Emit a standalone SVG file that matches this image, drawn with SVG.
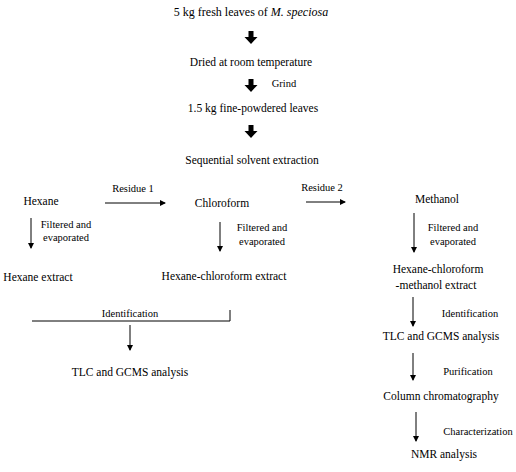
<svg xmlns="http://www.w3.org/2000/svg" width="516" height="472" viewBox="0 0 516 472">
<defs>
<style>
.t{font-family:"Liberation Serif","Times New Roman",serif;font-size:11.5px;fill:#000;text-anchor:middle}
.s{font-family:"Liberation Serif","Times New Roman",serif;font-size:10.5px;fill:#000;text-anchor:middle}
.l{stroke:#000;stroke-width:1;fill:none}
.big{fill:#000}
</style>
<marker id="ah" markerWidth="6" markerHeight="6" refX="5" refY="3" orient="auto" markerUnits="userSpaceOnUse">
<path d="M0,0 L6,3 L0,6 Z" fill="#000"/>
</marker>
<path id="blk" d="M-2.5,0 H2.5 V6 H6.5 L0,13 L-6.5,6 H-2.5 Z"/>
</defs>
<rect width="516" height="472" fill="#fff"/>

<g id="n-fresh"><text class="t" x="251" y="16" style="font-size:12px">5 kg fresh leaves of  <tspan font-style="italic">M. speciosa</tspan></text></g>
<g id="n-dried"><text class="t" x="251" y="66">Dried at room temperature</text></g>
<g id="n-powder"><text class="t" x="253" y="112">1.5 kg fine-powdered leaves</text></g>
<g id="n-seq"><text class="t" x="252" y="164">Sequential solvent extraction</text></g>
<g id="n-hexane"><text class="t" x="41" y="205">Hexane</text></g>
<g id="n-chloroform"><text class="t" x="222" y="207">Chloroform</text></g>
<g id="n-methanol"><text class="t" x="437" y="203">Methanol</text></g>
<g id="n-hexext"><text class="t" x="38" y="281">Hexane extract</text></g>
<g id="n-hcext"><text class="t" x="224" y="280">Hexane-chloroform extract</text></g>
<g id="n-hcmext"><text class="t" x="438" y="273">Hexane-chloroform</text><text class="t" x="436" y="289">-methanol extract</text></g>
<g id="n-tlc1"><text class="t" x="130" y="376">TLC and GCMS analysis</text></g>
<g id="n-tlc2"><text class="t" x="441" y="340">TLC and GCMS analysis</text></g>
<g id="n-column"><text class="t" x="441" y="400">Column chromatography</text></g>
<g id="n-nmr"><text class="t" x="444" y="458">NMR analysis</text></g>

<g id="connectors">
<use href="#blk" x="251" y="31" class="big"/>
<use href="#blk" x="251" y="79" class="big"/>
<use href="#blk" x="251" y="125" class="big"/>
<text class="s" x="284" y="87">Grind</text>

<line class="l" x1="105" y1="203" x2="165" y2="203" marker-end="url(#ah)"/>
<text class="s" x="133" y="192">Residue 1</text>
<line class="l" x1="306" y1="202" x2="345" y2="202" marker-end="url(#ah)"/>
<text class="s" x="322" y="191">Residue 2</text>

<line class="l" x1="31" y1="218" x2="31" y2="248" marker-end="url(#ah)"/>
<text class="s" x="66" y="228">Filtered and</text>
<text class="s" x="66" y="241">evaporated</text>

<line class="l" x1="220" y1="222" x2="220" y2="251" marker-end="url(#ah)"/>
<text class="s" x="262" y="231">Filtered and</text>
<text class="s" x="262" y="245">evaporated</text>

<line class="l" x1="414" y1="213" x2="414" y2="252" marker-end="url(#ah)"/>
<text class="s" x="453" y="231">Filtered and</text>
<text class="s" x="453" y="245">evaporated</text>

<polyline class="l" points="32,321 230,321 230,310"/>
<text class="s" x="130" y="317">Identification</text>
<line class="l" x1="130" y1="325" x2="130" y2="350" marker-end="url(#ah)"/>

<line class="l" x1="413" y1="297" x2="413" y2="326" marker-end="url(#ah)"/>
<text class="s" x="470" y="317">Identification</text>
<line class="l" x1="413" y1="353" x2="413" y2="380" marker-end="url(#ah)"/>
<text class="s" x="468" y="375">Purification</text>
<line class="l" x1="416" y1="412" x2="416" y2="441" marker-end="url(#ah)"/>
<text class="s" x="478" y="435">Characterization</text>
</g>
</svg>
